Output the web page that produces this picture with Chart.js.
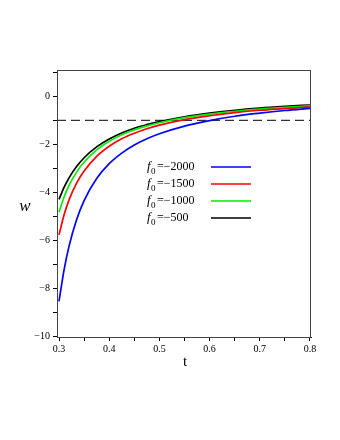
<!DOCTYPE html>
<html>
<head>
<meta charset="utf-8">
<script src="https://cdn.jsdelivr.net/npm/chart.js@4.4.0/dist/chart.umd.min.js"></script>
<style>
  html, body { margin: 0; padding: 0; background: #fff; }
  #wrap { width: 340px; height: 440px; }
</style>
</head>
<body>
<div id="wrap"><canvas id="chart" width="340" height="440"></canvas></div>
<script>
// t values shared by all curves
const tValues = [0.30, 0.31, 0.32, 0.335, 0.35, 0.375, 0.40, 0.425, 0.45, 0.475, 0.50, 0.55, 0.60, 0.65, 0.70, 0.75, 0.80];

// w(t), one list per f0
const w2000 = [-8.55, -7.25, -6.25, -5.15, -4.35, -3.43, -2.81, -2.37, -2.03, -1.77, -1.56, -1.24, -1.01, -0.83, -0.70, -0.59, -0.50];
const w1500 = [-5.78, -4.95, -4.32, -3.62, -3.11, -2.50, -2.08, -1.77, -1.54, -1.35, -1.20, -0.97, -0.81, -0.68, -0.58, -0.51, -0.44];
const w1000 = [-4.83, -4.20, -3.71, -3.16, -2.74, -2.23, -1.87, -1.60, -1.40, -1.23, -1.10, -0.89, -0.74, -0.62, -0.53, -0.46, -0.40];
const w500  = [-4.30, -3.80, -3.40, -2.93, -2.56, -2.11, -1.78, -1.53, -1.33, -1.18, -1.05, -0.85, -0.70, -0.58, -0.49, -0.42, -0.36];

const f0Labels = ['-2000', '-1500', '-1000', '-500'];
const seriesColors = ['#0000ff', '#ff0000', '#00ee00', '#000000'];

// horizontal reference line w = -1
const refT = [0.296, 0.802];
const refW = [-1, -1];

const xTicks = [0.3, 0.4, 0.5, 0.6, 0.7, 0.8];
const yTicks = [-10, -8, -6, -4, -2, 0];

const serif = '"Liberation Serif", "DejaVu Serif", serif';

function pts(xs, ys) {
  return xs.map((x, i) => ({ x: x, y: ys[i] }));
}

const allSeries = [w2000, w1500, w1000, w500];

// frame, axis titles and the legend with subscripts
const decorPlugin = {
  id: 'decor',
  afterDraw(chart) {
    const ctx = chart.ctx;
    const a = chart.chartArea;
    ctx.save();
    ctx.strokeStyle = '#444';
    ctx.lineWidth = 1;
    ctx.strokeRect(a.left + 0.5, a.top + 0.5, a.right - a.left - 1, a.bottom - a.top);

    ctx.fillStyle = '#000';
    ctx.textAlign = 'center';
    ctx.textBaseline = 'middle';
    ctx.font = '15px ' + serif;
    ctx.fillText('t', 185, 362);
    ctx.font = 'italic 17px ' + serif;
    ctx.fillText('w', 25, 207);

    // legend
    const rowY = [167, 184, 201, 218];
    f0Labels.forEach((lab, i) => {
      const y = rowY[i];
      ctx.textAlign = 'left';
      ctx.textBaseline = 'alphabetic';
      ctx.font = 'italic 13px ' + serif;
      ctx.fillStyle = '#000';
      ctx.fillText('f', 147, y + 3);
      ctx.font = '9px ' + serif;
      ctx.fillText('0', 151, y + 7);
      ctx.font = '12px ' + serif;
      ctx.fillText('=' + lab.replace('-', '\u2212'), 157, y + 3);
      ctx.strokeStyle = seriesColors[i];
      ctx.lineWidth = 1.6;
      ctx.beginPath();
      ctx.moveTo(211, y);
      ctx.lineTo(251, y);
      ctx.stroke();
    });
    ctx.restore();
  }
};

const datasets = allSeries.map((s, i) => ({
  label: 'f0=' + f0Labels[i],
  data: pts(tValues, s),
  borderColor: seriesColors[i],
  borderWidth: 1.7,
  pointRadius: 0,
  cubicInterpolationMode: 'monotone',
  fill: false,
}));
datasets.push({
  label: 'w=-1',
  data: pts(refT, refW),
  borderColor: '#333',
  borderWidth: 1.2,
  borderDash: [9, 5],
  pointRadius: 0,
  fill: false,
});

new Chart(document.getElementById('chart').getContext('2d'), {
  type: 'line',
  data: { datasets: datasets },
  options: {
    responsive: false,
    animation: false,
    layout: { padding: { left: 0, top: 70, right: 29, bottom: 0 } },
    plugins: {
      legend: { display: false },
      tooltip: { enabled: false },
    },
    scales: {
      x: {
        type: 'linear',
        min: 0.296,
        max: 0.802,
        afterFit(scale) { scale.height = 103; },
        border: { display: true, color: '#000', width: 1 },
        grid: { drawOnChartArea: false, drawTicks: true, tickLength: 4, color: '#000' },
        ticks: {
          stepSize: 0.05,
          includeBounds: false,
          autoSkip: false,
          maxRotation: 0,
          padding: 2,
          color: '#000',
          font: { family: serif, size: 10 },
          callback: (v) => {
            const hit = xTicks.find((t) => Math.abs(t - v) < 1e-6);
            return hit === undefined ? '' : hit.toFixed(1);
          },
        },
      },
      y: {
        type: 'linear',
        min: -10.04,
        max: 1.1,
        afterFit(scale) { scale.width = 57; },
        border: { display: true, color: '#000', width: 1 },
        grid: { drawOnChartArea: false, drawTicks: true, tickLength: 4, color: '#000' },
        ticks: {
          stepSize: 1,
          includeBounds: false,
          autoSkip: false,
          padding: 3,
          color: '#000',
          font: { family: serif, size: 10 },
          callback: (v) => {
            const hit = yTicks.find((t) => Math.abs(t - v) < 1e-6);
            if (hit === undefined) return '';
            return hit < 0 ? '\u2212' + Math.abs(hit) : String(hit);
          },
        },
      },
    },
  },
  plugins: [decorPlugin],
});
</script>
</body>
</html>
